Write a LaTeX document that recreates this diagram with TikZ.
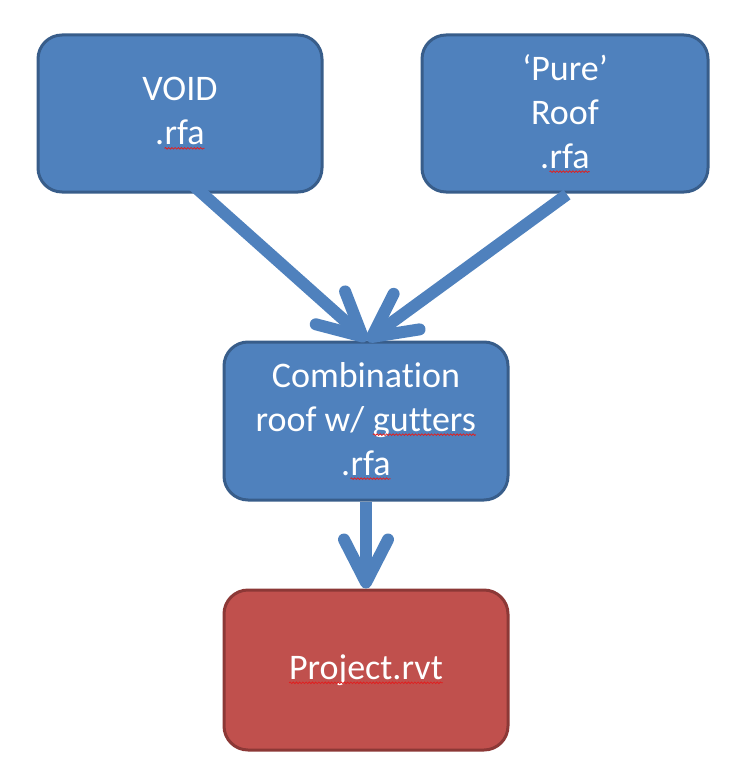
\documentclass[tikz,border=0pt]{standalone}
\usepackage{fontspec}
\setmainfont[Ligatures={NoCommon}]{Carlito}
\usetikzlibrary{arrows.meta,decorations.pathmorphing}
\definecolor{boxblue}{HTML}{4F81BD}
\definecolor{boxblueedge}{HTML}{385D8A}
\definecolor{boxred}{HTML}{C0504D}
\definecolor{boxrededge}{HTML}{8C3836}
\definecolor{spellred}{HTML}{E02020}
\tikzset{
  wordbox/.style={inner sep=0pt,outer sep=0pt,minimum width=0pt,minimum height=0pt,
    draw=none,fill=none,sharp corners,text=white},
  wavy/.style={draw=spellred,fill=none,sharp corners,line width=0.8pt,decorate,
    decoration={snake,amplitude=0.8pt,segment length=3.2pt}},
  flowbox/.style={rounded corners=24pt,line width=3pt,minimum width=284pt,minimum height=157pt,
    align=center,text=white,font=\fontsize{36}{44}\selectfont,inner sep=0pt},
  bluebox/.style={flowbox,fill=boxblue,draw=boxblueedge},
  redbox/.style={flowbox,fill=boxred,draw=boxrededge},
  flowarrow/.style={draw=boxblue,line width=12pt,
    -{Straight Barb[length=43pt,width=44pt,round]}}
}
\newcommand{\squig}[1]{\tikz[baseline=(w.base),x=1pt,y=1pt]{\node[wordbox](w){#1};\path[wavy] ([yshift=-3.5pt]w.base west) -- ([yshift=-3.5pt]w.base east);}}
\begin{document}
\begin{tikzpicture}[x=1pt,y=-1pt]
\useasboundingbox (0,0) rectangle (741,784);
\node[bluebox] (void) at (180,113.5) {VOID\\.\squig{rfa}};
\node[bluebox,minimum width=286pt] (pure) at (565,113.5) {‘Pure’\\Roof\\.\squig{rfa}};
\node[bluebox,minimum height=158pt] (combo) at (366,421) {Combination\\roof w/ \squig{gutters}\\.\squig{rfa}};
\node[redbox,minimum height=160pt] (proj) at (366,670) {\squig{Project.rvt}};
\coordinate (s1) at ([shift={(1,-19)}]void.south);
\coordinate (s2) at ([shift={(2,1)}]pure.south);
\coordinate (t12) at ([shift={(1,0)}]combo.north);
\coordinate (t3) at (proj.north);
\draw[flowarrow] (s1) -- (t12);
\draw[flowarrow] (s2) -- (t12);
\draw[flowarrow] (combo.south) -- (t3);
\end{tikzpicture}
\end{document}
